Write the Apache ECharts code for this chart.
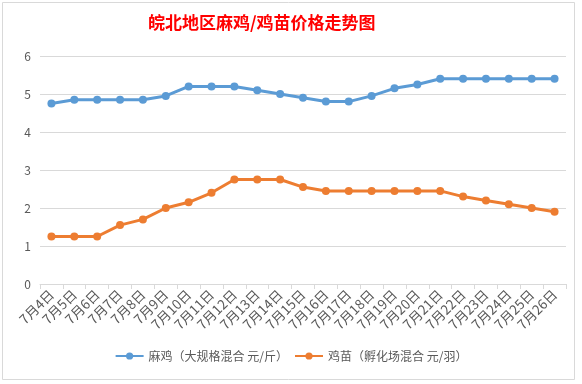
<!DOCTYPE html>
<html>
<head>
<meta charset="utf-8">
<script src="https://cdn.jsdelivr.net/npm/echarts@6/dist/echarts.min.js"></script>
<style>
html,body{margin:0;padding:0;background:#fff;}
#c{width:582px;height:384px;}
</style>
</head>
<body>
<div id="c"></div>
<script>
const categories = ['7月4日','7月5日','7月6日','7月7日','7月8日','7月9日','7月10日','7月11日','7月12日','7月13日','7月14日','7月15日','7月16日','7月17日','7月18日','7月19日','7月20日','7月21日','7月22日','7月23日','7月24日','7月25日','7月26日'];
const maji = [4.75,4.85,4.85,4.85,4.85,4.95,5.2,5.2,5.2,5.1,5.0,4.9,4.8,4.8,4.95,5.15,5.25,5.4,5.4,5.4,5.4,5.4,5.4];
const jimiao = [1.25,1.25,1.25,1.55,1.7,2.0,2.15,2.4,2.75,2.75,2.75,2.55,2.45,2.45,2.45,2.45,2.45,2.45,2.3,2.2,2.1,2.0,1.9];
const seriesNames = ['麻鸡（大规格混合 元/斤）','鸡苗（孵化场混合 元/羽）'];
const yTicks = [0,1,2,3,4,5,6];

const chart = echarts.init(document.getElementById('c'));
const font = '"Noto Sans CJK SC", "Microsoft YaHei", sans-serif';
chart.setOption({
  backgroundColor: '#fff',
  animation: false,
  title: {
    text: '皖北地区麻鸡/鸡苗价格走势图',
    left: 143, top: 9,
    textStyle: { color: '#FF0000', fontSize: 17, fontWeight: 'bold', fontFamily: font }
  },
  graphic: [{
    type: 'rect', shape: { x: 2.5, y: 2.5, width: 572, height: 377 },
    style: { fill: 'none', stroke: '#d9d9d9', lineWidth: 1 }, silent: true
  }],
  legend: {
    bottom: 17, left: 'center',
    itemWidth: 28, itemHeight: 9, itemGap: 6,
    textStyle: { color: '#595959', fontSize: 12, fontFamily: font },
    data: seriesNames
  },
  grid: { left: 40, right: 16, top: 56, bottom: 100, containLabel: false },
  xAxis: {
    type: 'category', data: categories, boundaryGap: true,
    axisLine: { lineStyle: { color: '#d9d9d9' } },
    axisTick: { show: true, length: 5, lineStyle: { color: '#d9d9d9' } },
    axisLabel: { rotate: 45, interval: 0, color: '#595959', fontSize: 13.5, fontFamily: font, margin: 8 }
  },
  yAxis: {
    type: 'value', min: yTicks[0], max: yTicks[yTicks.length-1], interval: 1,
    axisLine: { show: false }, axisTick: { show: false },
    splitLine: { lineStyle: { color: '#d9d9d9' } },
    axisLabel: { color: '#595959', fontSize: 12, fontFamily: font, margin: 9 }
  },
  series: [
    { name: seriesNames[0], type: 'line', data: maji, symbol: 'circle', symbolSize: 8,
      itemStyle: { color: '#5B9BD5' }, lineStyle: { width: 3, color: '#5B9BD5' } },
    { name: seriesNames[1], type: 'line', data: jimiao, symbol: 'circle', symbolSize: 8,
      itemStyle: { color: '#ED7D31' }, lineStyle: { width: 3, color: '#ED7D31' } }
  ]
});
</script>
</body>
</html>
